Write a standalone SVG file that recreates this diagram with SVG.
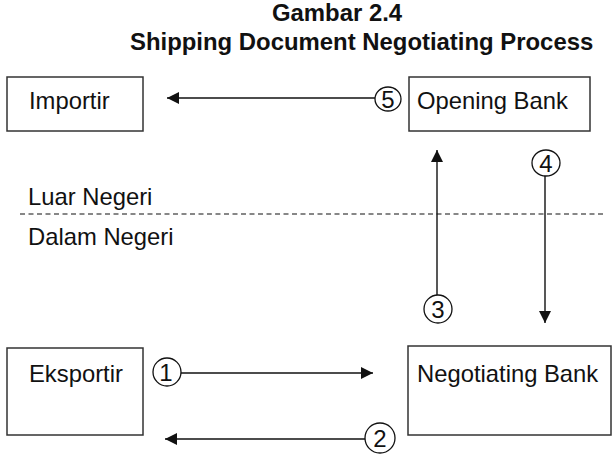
<svg xmlns="http://www.w3.org/2000/svg" width="615" height="462" viewBox="0 0 615 462">
<style>
text{font-family:"Liberation Sans",Arial,sans-serif;fill:#111;}
.lbl{font-size:23.8px;}
.title{font-size:23.9px;font-weight:bold;}
.num{font-size:24px;text-anchor:middle;}
.box{fill:#fff;stroke:#333;stroke-width:1.5;}
.c{fill:#fff;stroke:#111;stroke-width:1.3;}
.ln{stroke:#111;stroke-width:1.4;fill:none;}
</style>
<defs>
<marker id="ah" markerUnits="userSpaceOnUse" markerWidth="13" markerHeight="12" refX="12" refY="6" orient="auto">
<path d="M0,0 L12,6 L0,12 Z" fill="#111"/>
</marker>
</defs>
<rect width="615" height="462" fill="#fff"/>
<g id="title">
<text class="title" x="272" y="21">Gambar 2.4</text>
<text class="title" x="130" y="50">Shipping Document Negotiating Process</text>
</g>
<g id="region">
<line x1="20" y1="214" x2="606" y2="214" stroke="#111" stroke-width="1.2" stroke-dasharray="5,3.5"/>
<text class="lbl" x="28" y="205">Luar Negeri</text>
<text class="lbl" x="28" y="245">Dalam Negeri</text>
</g>
<g id="importir">
<rect class="box" x="7" y="77" width="136" height="54"/>
<text class="lbl" x="29" y="109">Importir</text>
</g>
<g id="opening-bank">
<rect class="box" x="409" y="77" width="181" height="54"/>
<text class="lbl" x="417" y="109">Opening Bank</text>
</g>
<g id="eksportir">
<rect class="box" x="7" y="348" width="136" height="87"/>
<text class="lbl" x="29" y="382">Eksportir</text>
</g>
<g id="negotiating-bank">
<rect class="box" x="408" y="346" width="203" height="89"/>
<text class="lbl" x="417" y="382">Negotiating Bank</text>
</g>
<g id="connectors">
<line class="ln" x1="375" y1="98" x2="167" y2="98" marker-end="url(#ah)"/>
<line class="ln" x1="437" y1="295" x2="437" y2="150" marker-end="url(#ah)"/>
<line class="ln" x1="545" y1="175" x2="545" y2="323" marker-end="url(#ah)"/>
<line class="ln" x1="181" y1="373" x2="373" y2="373" marker-end="url(#ah)"/>
<line class="ln" x1="365" y1="439" x2="165" y2="439" marker-end="url(#ah)"/>
</g>
<g id="step-labels">
<ellipse class="c" cx="388" cy="99" rx="13" ry="12"/>
<text class="num" x="388" y="107.5">5</text>
<ellipse class="c" cx="546" cy="163" rx="14" ry="13"/>
<text class="num" x="546" y="171.5">4</text>
<ellipse class="c" cx="438" cy="309" rx="14" ry="14"/>
<text class="num" x="438" y="317.5">3</text>
<ellipse class="c" cx="167" cy="372" rx="14" ry="14"/>
<text class="num" x="166" y="380.5">1</text>
<ellipse class="c" cx="380" cy="438" rx="15" ry="15"/>
<text class="num" x="380" y="446.5">2</text>
</g>
</svg>
